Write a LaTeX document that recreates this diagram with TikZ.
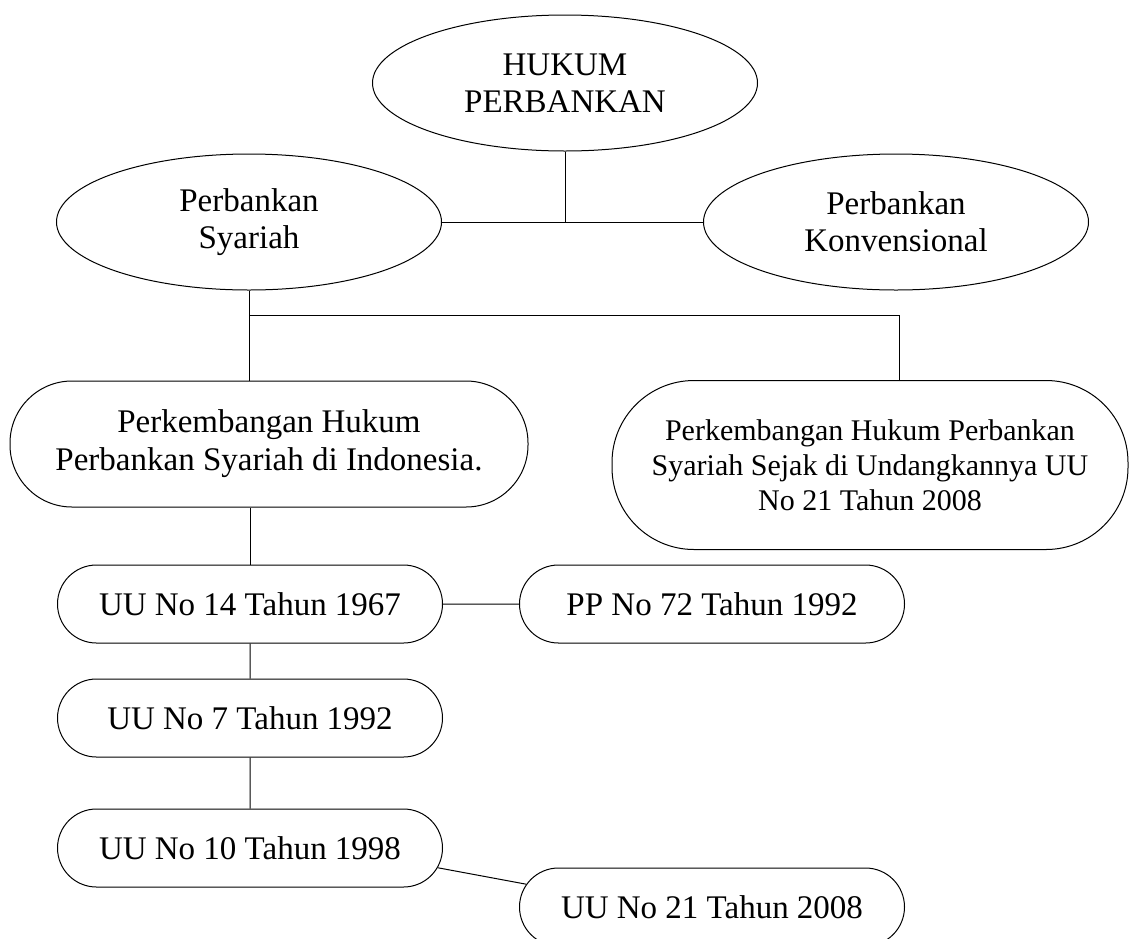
\documentclass[tikz,border=0pt]{standalone}
\usepackage{fontspec}
\setmainfont{Liberation Serif}
\usetikzlibrary{shapes.geometric,shapes.misc,positioning}

\begin{document}
\begin{tikzpicture}[x=1pt,y=1pt,line width=1pt,
  oval node/.style={ellipse,draw,align=center,inner sep=0pt,
  font=\fontsize{33}{37}\selectfont,minimum width=385pt,minimum height=136pt},
  law node/.style={rounded rectangle,draw,align=center,inner sep=0pt,
  font=\fontsize{33}{38}\selectfont,minimum width=385pt,minimum height=78pt},
  big node/.style={rectangle,draw,align=center,inner sep=0pt,
  font=\fontsize{33}{38}\selectfont}]

  \useasboundingbox (0,0) rectangle (1129,-938);

  \node[oval node] (H) at (565,-83) {HUKUM\\PERBANKAN};
  \node[oval node] (S) at (249,-222) {Perbankan\\Syariah};
  \node[oval node] (K) at (896,-222) {Perbankan\\Konvensional};

  \node[big node,minimum width=518pt,minimum height=126pt,rounded corners=62pt] (P) at (269,-444)
    {Perkembangan Hukum\\Perbankan Syariah di Indonesia.};
  \node[big node,minimum width=516pt,minimum height=169pt,rounded corners=82pt,
    font=\fontsize{30}{35}\selectfont] (SJ) at (870,-465)
    {Perkembangan Hukum Perbankan\\Syariah Sejak di Undangkannya UU\\No 21 Tahun 2008};

  \node[law node] (U14) at (250,-604) {UU No 14 Tahun 1967};
  \node[law node] (PP) [right=76pt of U14] {PP No 72 Tahun 1992};
  \node[law node] (U7) [below=35pt of U14] {UU No 7 Tahun 1992};
  \node[law node] (U10) [below=51pt of U7] {UU No 10 Tahun 1998};
  \node[law node] (U21) [right=76pt of U10,yshift=-59pt] {UU No 21 Tahun 2008};

  %Hukum Perbankan splits into the two kinds%
  \draw (H.south) -- (H.south |- S.east);
  \draw (S.east) -- (K.west);

  %Syariah branches%
  \draw (S.south) -- ++(0,-25) coordinate (split) -| ([xshift=29pt]SJ.north);
  \draw (split) -- (split |- P.north);

  %Chain of laws
  \path (P.south -| U14.north) edge (U14.north)
    (U14) edge (PP)
    (U14) edge (U7)
    (U7) edge (U10)
    (U10.-6) edge (U21.173);

\end{tikzpicture}
\end{document}
